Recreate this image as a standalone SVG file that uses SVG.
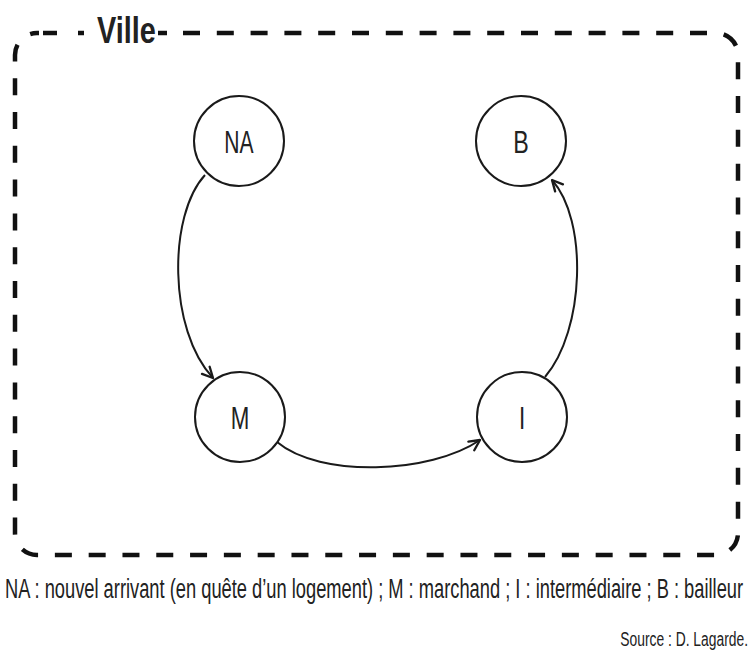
<svg xmlns="http://www.w3.org/2000/svg" width="750" height="651" viewBox="0 0 750 651">
<style>
.node circle{fill:#fff;stroke:#1a1a1a;stroke-width:2}
.lbl{font-family:"Liberation Sans",Arial,sans-serif;font-size:31px;fill:#222;text-anchor:middle}
.edge{fill:none;stroke:#1a1a1a;stroke-width:2;marker-end:url(#arr)}
.frame{fill:none;stroke:#111;stroke-width:4.5}
.txt{font-family:"Liberation Sans",Arial,sans-serif;fill:#222}
</style>
<defs>
<marker id="arr" markerUnits="userSpaceOnUse" markerWidth="14" markerHeight="14" viewBox="0 0 12 12" refX="11" refY="6" orient="auto">
<path d="M2,1.5 L11,6 L2,10.5" fill="none" stroke="#1a1a1a" stroke-width="2" stroke-linecap="round" stroke-linejoin="round"/>
</marker>
</defs>
<rect width="750" height="651" fill="#fff"/>
<g id="frame">
<path class="frame" stroke-dasharray="17 16.8" d="M183,33 H716 A22,22 0 0 1 738,55 V533 A22,22 0 0 1 716,555 H37 A22,22 0 0 1 15,533 V55 A22,22 0 0 1 37,33 H39"/>
<line class="frame" x1="43" y1="33" x2="57" y2="33"/>
<line class="frame" x1="78" y1="33" x2="84" y2="33"/>
<line class="frame" x1="158" y1="33" x2="167" y2="33"/>
<text class="txt" transform="translate(97,43) scale(0.78,1)" x="0" y="0" font-size="37" font-weight="bold" fill="#111">Ville</text>
</g>
<g id="connectors">
<path class="edge" d="M205,175 C168,215 168,330 213,378"/>
<path class="edge" d="M277,442 C320,478 430,474 480,440"/>
<path class="edge" d="M545,377 C585,330 588,220 552,180"/>
</g>
<g id="node-NA" class="node"><circle cx="239" cy="141" r="45"/><text class="lbl" transform="translate(239,153) scale(0.68,1)">NA</text></g>
<g id="node-B" class="node"><circle cx="521" cy="141" r="45"/><text class="lbl" transform="translate(521,153) scale(0.75,1)">B</text></g>
<g id="node-M" class="node"><circle cx="240" cy="417" r="45"/><text class="lbl" transform="translate(240,429) scale(0.72,1)">M</text></g>
<g id="node-I" class="node"><circle cx="522" cy="417" r="45"/><text class="lbl" transform="translate(522,429) scale(0.72,1)">I</text></g>
<text class="txt" transform="translate(5,598) scale(0.678,1)" font-size="27">NA : nouvel arrivant (en quête d’un logement) ; M : marchand ; I : intermédiaire ;  B : bailleur</text>
<text class="txt" transform="translate(748,646) scale(0.71,1)" font-size="19.5" text-anchor="end">Source : D. Lagarde.</text>
</svg>
